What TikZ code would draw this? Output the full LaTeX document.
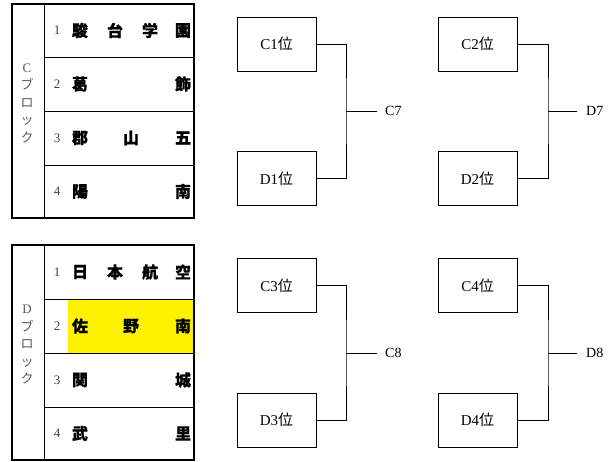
\documentclass[tikz,border=0pt]{standalone}
\usepackage{fontspec}
\setmainfont{Liberation Serif}
\newfontfamily\jp{Noto Sans CJK JP}
\newfontfamily\jpb[BoldFeatures={FakeBold=0.6}]{Noto Sans CJK JP}
\begin{document}
\begin{tikzpicture}[x=1pt,y=-1pt,
  outer/.style={line width=1.8pt},
  inner/.style={line width=0.8pt},
  seed/.style={draw, line width=0.8pt, minimum width=79pt, minimum height=54pt, inner sep=0pt, font=\fontsize{15}{15}\selectfont},
  wire/.style={line width=0.9pt},
  num/.style={font=\fontsize{13}{13}\selectfont, text=black!75, inner sep=0pt},
  team/.style={font=\jpb\bfseries\fontsize{16}{16}\selectfont, inner sep=0pt},
  blk/.style={font=\fontsize{13}{17.5}\selectfont, text=black!65, align=center, inner sep=0pt},
  lab/.style={font=\fontsize{14}{14}\selectfont, anchor=west, inner sep=0pt}]
\useasboundingbox (0,0) rectangle (611,462);

% ---------- C block table ----------
\draw[inner] (44,4) -- (44,218);
\foreach \y in {57,111,165} \draw[inner] (44,\y) -- (194,\y);
\draw[outer] (12,4) rectangle (194,218);
\node[blk] (cblk) at (27,103) {C\\{\jp ブ}\\{\jp ロ}\\{\jp ッ}\\{\jp ク}};
\node[num] (cn1) at (57,30.5) {1};
\node[num] (cn2) at (57,84) {2};
\node[num] (cn3) at (57,138) {3};
\node[num] (cn4) at (57,191.5) {4};
\foreach \ch/\x [count=\i] in {駿/80,台/115,学/150,園/183} \node[team] (ca\i) at (\x,30.5) {\ch};
\foreach \ch/\x [count=\i] in {葛/80,飾/183} \node[team] (cb\i) at (\x,84) {\ch};
\foreach \ch/\x [count=\i] in {郡/80,山/131,五/183} \node[team] (cc\i) at (\x,138) {\ch};
\foreach \ch/\x [count=\i] in {陽/80,南/183} \node[team] (cd\i) at (\x,191.5) {\ch};

% ---------- D block table ----------
\fill[yellow] (68,299) rectangle (194,353);
\draw[inner] (44,245) -- (44,460);
\foreach \y in {299,353,407} \draw[inner] (44,\y) -- (194,\y);
\draw[outer] (12,245) rectangle (194,460);
\node[blk] (dblk) at (27,345) {D\\{\jp ブ}\\{\jp ロ}\\{\jp ッ}\\{\jp ク}};
\node[num] (dn1) at (57,272) {1};
\node[num] (dn2) at (57,326) {2};
\node[num] (dn3) at (57,380) {3};
\node[num] (dn4) at (57,433.5) {4};
\foreach \ch/\x [count=\i] in {日/80,本/115,航/150,空/183} \node[team] (da\i) at (\x,272) {\ch};
\foreach \ch/\x [count=\i] in {佐/80,野/131,南/183} \node[team] (db\i) at (\x,326) {\ch};
\foreach \ch/\x [count=\i] in {関/80,城/183} \node[team] (dc\i) at (\x,380) {\ch};
\foreach \ch/\x [count=\i] in {武/80,里/183} \node[team] (dd\i) at (\x,433.5) {\ch};

% ---------- bracket boxes ----------
\node[seed] (C1) at (276.5,44) {C1{\jp 位}};
\node[seed] (D1) at (276.5,178.5) {D1{\jp 位}};
\node[seed] (C2) at (477.5,44) {C2{\jp 位}};
\node[seed] (D2) at (477.5,178.5) {D2{\jp 位}};
\node[seed] (C3) at (276.5,285.5) {C3{\jp 位}};
\node[seed] (D3) at (276.5,420) {D3{\jp 位}};
\node[seed] (C4) at (477.5,285.5) {C4{\jp 位}};
\node[seed] (D4) at (477.5,420) {D4{\jp 位}};

\coordinate (j1) at (346,111);   \coordinate (e1) at (377,111);
\coordinate (j2) at (548,111);   \coordinate (e2) at (577,111);
\coordinate (j3) at (346,353);   \coordinate (e3) at (377,353);
\coordinate (j4) at (548,353);   \coordinate (e4) at (577,353);

\draw[wire] (C1.east) -| (j1) |- (D1.east);  \draw[wire] (j1) -- (e1);
\draw[wire] (C2.east) -| (j2) |- (D2.east);  \draw[wire] (j2) -- (e2);
\draw[wire] (C3.east) -| (j3) |- (D3.east);  \draw[wire] (j3) -- (e3);
\draw[wire] (C4.east) -| (j4) |- (D4.east);  \draw[wire] (j4) -- (e4);

\node[lab] (w1) at (385,111) {C7};
\node[lab] (w2) at (586,111) {D7};
\node[lab] (w3) at (385,353) {C8};
\node[lab] (w4) at (586,353) {D8};
\end{tikzpicture}
\end{document}
